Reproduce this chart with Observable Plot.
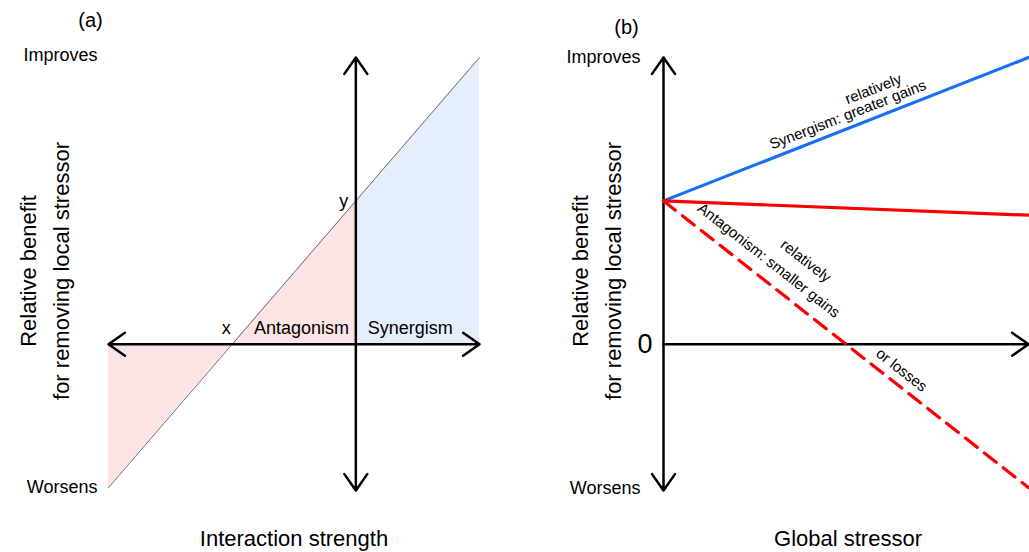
<!DOCTYPE html>
<html>
<head>
<meta charset="utf-8">
<script src="https://cdn.jsdelivr.net/npm/d3@7"></script>
<script src="https://cdn.jsdelivr.net/npm/@observablehq/plot@0.6"></script>
<style>
  html, body { margin: 0; padding: 0; background: #fff; }
  #wrap { position: relative; width: 1029px; height: 552px; overflow: hidden; font-family: "Liberation Sans", Arial, sans-serif; }
  #wrap > div, #wrap > svg { position: absolute; top: 0; }
</style>
</head>
<body>
<div id="wrap"></div>
<script>
// ---------- Panel (a): interaction strength ----------
const diagX = [-2, 1];          // interaction strength
const diagY = [-1, 2];          // relative benefit
const antagX = [-2, -1, 0];
const antagY = [-1, 0, 1];
const synerX = [0, 1];
const synerY = [1, 2];

// ---------- Panel (b): global stressor ----------
const stressor = [0, 1];
const synergyGains = [1, 2];
const antagSmaller = [1, 0.9];
const antagLosses = [1, -1];

const FONT = '"Liberation Sans", Arial, sans-serif';
const pink = "#fde4e4";
const blueFill = "#e4eefc";
const blueLine = "#1a6ef5";
const red = "#fa0000";

const antagRows = antagX.map((x, i) => ({x, y: antagY[i]}));
const synerRows = synerX.map((x, i) => ({x, y: synerY[i]}));
const diagRows = diagX.map((x, i) => ({x, y: diagY[i]}));

const arrowOpts = {stroke: "black", strokeWidth: 2.5, headLength: 12, headAngle: 70, bend: 0};

const plotA = Plot.plot({
  width: 515, height: 552,
  marginLeft: 108, marginRight: 36, marginTop: 57, marginBottom: 62,
  x: {domain: [-2, 1], axis: null},
  y: {domain: [-1.02, 2], axis: null},
  style: {fontFamily: FONT, background: "transparent", overflow: "visible"},
  marks: [
    Plot.areaY(antagRows, {x: "x", y1: 0, y2: "y", fill: pink}),
    Plot.areaY(synerRows, {x: "x", y1: 0, y2: "y", fill: blueFill}),
    Plot.line(diagRows, {x: "x", y: "y", stroke: "#333", strokeWidth: 0.7}),
    Plot.arrow([{x1: 0, y1: 0, x2: -2, y2: 0}, {x1: 0, y1: 0, x2: 1, y2: 0},
                {x1: 0, y1: 0, x2: 0, y2: 2}, {x1: 0, y1: 0, x2: 0, y2: -1.02}],
               {x1: "x1", y1: "y1", x2: "x2", y2: "y2", ...arrowOpts}),
    Plot.text([{t: "x"}], {x: -1, y: 0, text: "t", dx: -6, dy: -16, fontSize: 18}),
    Plot.text([{t: "y"}], {x: 0, y: 1, text: "t", dx: -12, dy: 0, fontSize: 18}),
    Plot.text([{t: "Antagonism"}], {x: -0.44, y: 0, text: "t", dy: -16, fontSize: 18}),
    Plot.text([{t: "Synergism"}], {x: 0.44, y: 0, text: "t", dy: -16, fontSize: 18}),
    Plot.text([{t: "Improves"}], {x: -2, y: 2, text: "t", dx: -11, dy: -2, textAnchor: "end", fontSize: 18}),
    Plot.text([{t: "Worsens"}], {x: -2, y: -1, text: "t", dx: -11, dy: 0, textAnchor: "end", fontSize: 18}),
    Plot.text([{t: "(a)"}], {frameAnchor: "top-left", text: "t", dx: -18, dy: -37, textAnchor: "middle", lineAnchor: "middle", fontSize: 20}),
    Plot.text([{t: "Interaction strength"}], {frameAnchor: "bottom", text: "t", dx: 0, dy: 48, textAnchor: "middle", lineAnchor: "middle", fontSize: 22}),
    Plot.text([{t: "Relative benefit\nfor removing local stressor"}], {frameAnchor: "left", text: "t", rotate: -90, dx: -67, dy: -3, textAnchor: "middle", lineAnchor: "middle", lineHeight: 1.5, fontSize: 22})
  ]
});

const lineRows = (ys) => stressor.map((x, i) => ({x, y: ys[i]}));

const plotB = Plot.plot({
  width: 514, height: 552,
  marginLeft: 148, marginRight: 1, marginTop: 57, marginBottom: 62,
  x: {domain: [0, 1], axis: null},
  y: {domain: [-1.02, 2], axis: null},
  style: {fontFamily: FONT, background: "transparent", overflow: "visible"},
  marks: [
    Plot.arrow([{x1: 0, y1: 0, x2: 1, y2: 0},
                {x1: 0, y1: 0, x2: 0, y2: 2}, {x1: 0, y1: 0, x2: 0, y2: -1.02}],
               {x1: "x1", y1: "y1", x2: "x2", y2: "y2", ...arrowOpts}),
    Plot.line(lineRows(synergyGains), {x: "x", y: "y", stroke: blueLine, strokeWidth: 3.2}),
    Plot.line(lineRows(antagSmaller), {x: "x", y: "y", stroke: red, strokeWidth: 3.2}),
    Plot.line(lineRows(antagLosses), {x: "x", y: "y", stroke: red, strokeWidth: 3.2, strokeDasharray: "15,9"}),
    Plot.text([{t: "Synergism: greater gains"}], {x: 0.505, y: 1.6, text: "t", rotate: -21.3, fontSize: 15}),
    Plot.text([{t: "relatively"}], {x: 0.575, y: 1.78, text: "t", rotate: -21.3, fontSize: 15}),
    Plot.text([{t: "Antagonism: smaller gains"}], {x: 0.288, y: 0.585, text: "t", rotate: 38.1, fontSize: 15}),
    Plot.text([{t: "relatively"}], {x: 0.39, y: 0.58, text: "t", rotate: 38.1, fontSize: 15}),
    Plot.text([{t: "or losses"}], {x: 0.652, y: -0.18, text: "t", rotate: 38.1, fontSize: 15}),
    Plot.text([{t: "0"}], {x: 0, y: 0, text: "t", dx: -11, textAnchor: "end", fontSize: 27}),
    Plot.text([{t: "Improves"}], {x: 0, y: 2, text: "t", dx: -23, dy: 0, textAnchor: "end", fontSize: 18}),
    Plot.text([{t: "Worsens"}], {x: 0, y: -1.02, text: "t", dx: -23, dy: -2, textAnchor: "end", fontSize: 18}),
    Plot.text([{t: "(b)"}], {frameAnchor: "top-left", text: "t", dx: -37, dy: -30, textAnchor: "middle", lineAnchor: "middle", fontSize: 20}),
    Plot.text([{t: "Global stressor"}], {frameAnchor: "bottom", text: "t", dx: 2, dy: 48, textAnchor: "middle", lineAnchor: "middle", fontSize: 22}),
    Plot.text([{t: "Relative benefit\nfor removing local stressor"}], {frameAnchor: "left", text: "t", rotate: -90, dx: -70, dy: -3, textAnchor: "middle", lineAnchor: "middle", lineHeight: 1.5, fontSize: 22})
  ]
});

const wrap = document.getElementById("wrap");
plotA.style.left = "0px";
plotB.style.left = "515px";
wrap.appendChild(plotA);
wrap.appendChild(plotB);
</script>
</body>
</html>
